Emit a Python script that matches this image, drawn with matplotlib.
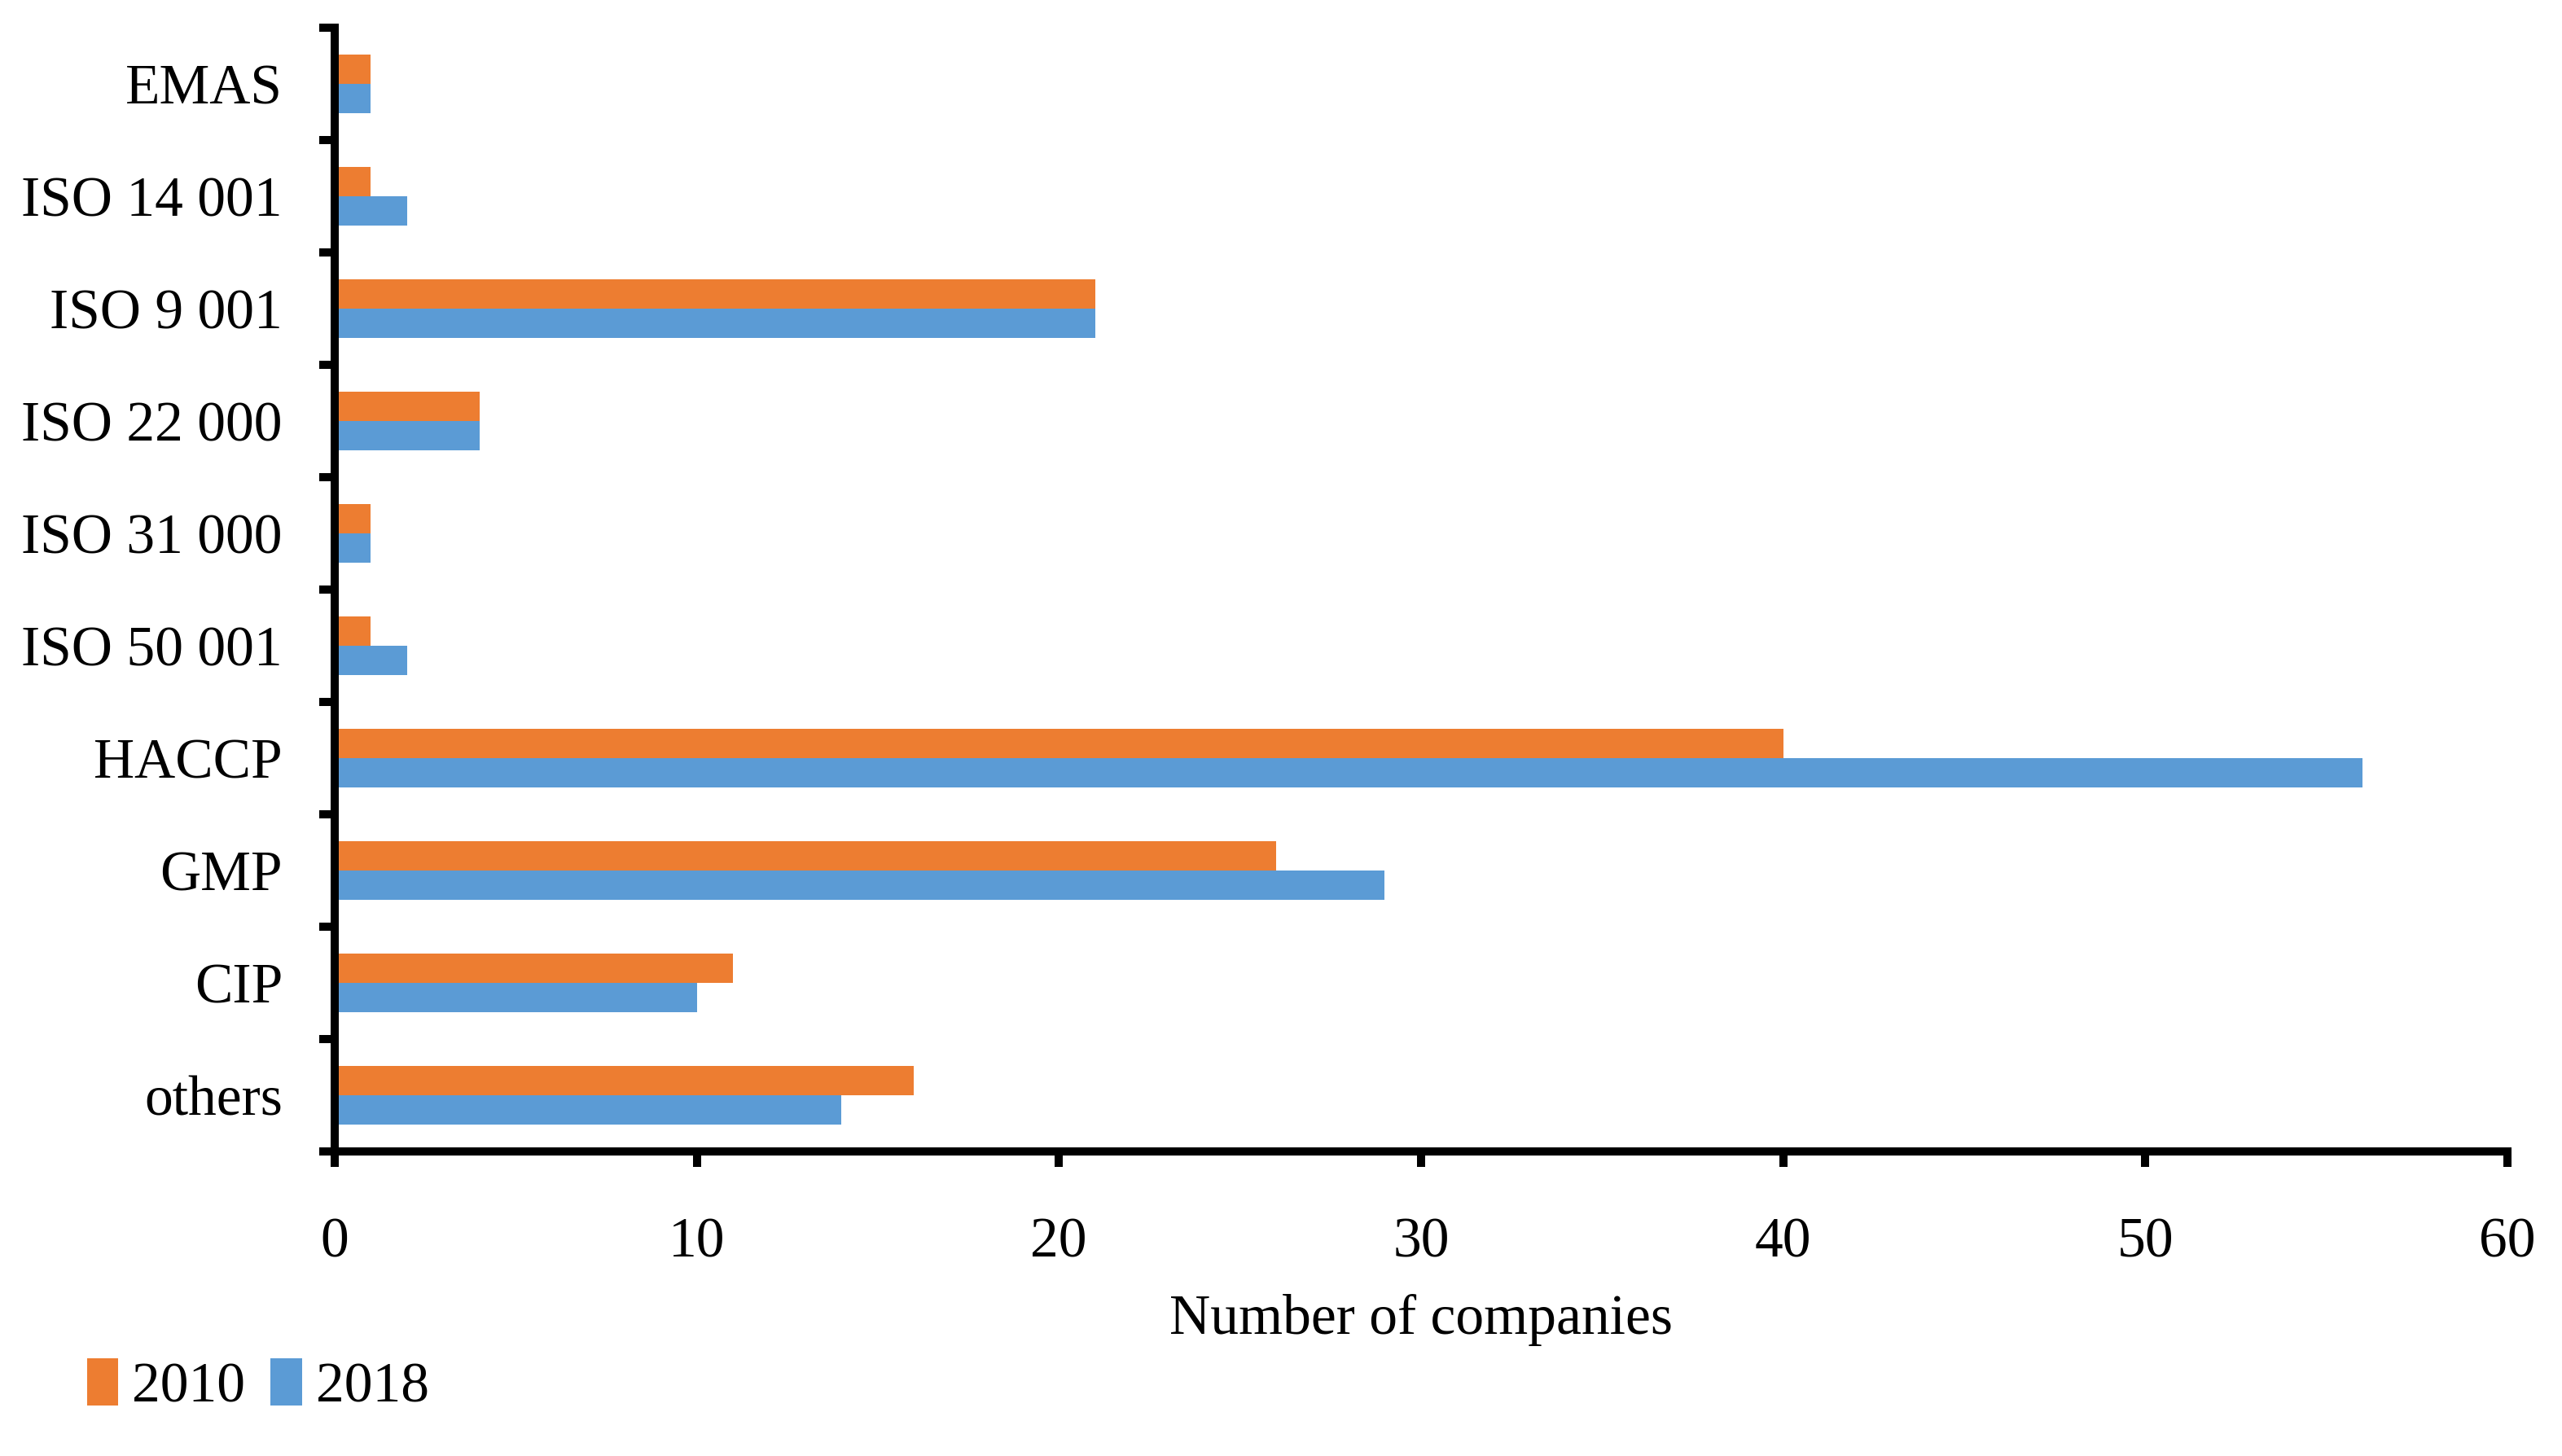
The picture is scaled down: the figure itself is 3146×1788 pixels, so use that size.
import matplotlib
matplotlib.use("Agg")
import matplotlib.pyplot as plt
import numpy as np

# certification data (top to bottom)
categories = ["EMAS", "ISO 14 001", "ISO 9 001", "ISO 22 000", "ISO 31 000",
              "ISO 50 001", "HACCP", "GMP", "CIP", "others"]
values_2010 = [1, 1, 21, 4, 1, 1, 40, 26, 11, 16]
values_2018 = [1, 2, 21, 4, 1, 2, 56, 29, 10, 14]

plt.rcParams['font.family'] = ['Liberation Serif', 'DejaVu Serif']

fig = plt.figure(figsize=(15.73, 8.94), dpi=200)
ax = fig.add_axes([0.1306, 0.2092, 0.8481, 0.7718])

n = len(categories)
pos = np.arange(n)[::-1]  # first category at top
h = 0.26
ax.barh(pos + h / 2, values_2010, height=h, color="#ED7D31", label="2010")
ax.barh(pos - h / 2, values_2018, height=h, color="#5B9BD5", label="2018")

ax.set_xlim(0, 60)
ax.set_ylim(-0.5, n - 0.5)
ax.set_xticks(np.arange(0, 61, 10))

# category boundaries get the tick marks, labels sit between them
ax.set_yticks(np.arange(-0.5, n, 1.0))
ax.set_yticklabels([])
ax.set_yticks(pos, minor=True)
ax.set_yticklabels(categories, minor=True)
ax.tick_params(axis="y", which="major", direction="out", length=7, width=3.6)
ax.tick_params(axis="y", which="minor", length=0, pad=23, labelsize=25)
ax.tick_params(axis="x", direction="out", length=7, width=3.6, pad=22, labelsize=25)

for side in ["top", "right"]:
    ax.spines[side].set_visible(False)
for side in ["left", "bottom"]:
    ax.spines[side].set_linewidth(3.6)

ax.set_xlabel("Number of companies", fontsize=25, labelpad=11)

fig.legend(loc="lower left", bbox_to_anchor=(0.014, -0.006), ncol=2, frameon=False,
           fontsize=25, handlelength=0.55, handleheight=0.9, handletextpad=0.25,
           columnspacing=0.45)

fig.savefig("out.png", dpi=200)
